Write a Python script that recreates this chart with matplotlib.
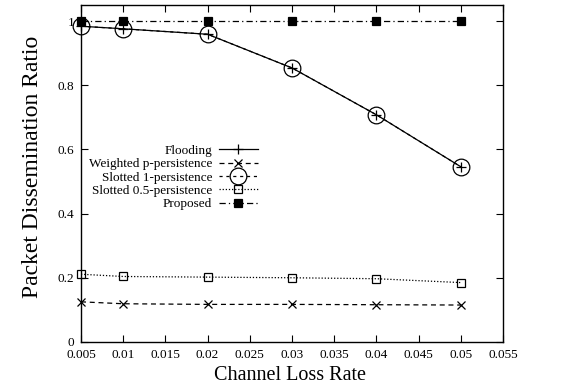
import matplotlib
matplotlib.use('Agg')
import matplotlib.pyplot as plt
from matplotlib.ticker import MultipleLocator

# channel loss rate (x) and packet dissemination ratio (y)
loss_rate = [0.005, 0.01, 0.02, 0.03, 0.04, 0.05]
flooding = [0.984, 0.976, 0.959, 0.854, 0.708, 0.546]
weighted_p = [0.125, 0.119, 0.117, 0.117, 0.116, 0.115]
slotted_1 = [0.984, 0.976, 0.959, 0.854, 0.708, 0.546]
slotted_05 = [0.211, 0.204, 0.202, 0.200, 0.197, 0.185]
proposed = [1.0, 1.0, 1.0, 1.0, 1.0, 1.0]

plt.rcParams['font.family'] = ['Liberation Serif', 'DejaVu Serif']

fig = plt.figure(figsize=(5.61, 3.89), dpi=100)
ax = fig.add_axes([0.1444, 0.121, 0.7522, 0.866])

lw = 0.9
kw = dict(color='black', lw=lw, mew=0.9, clip_on=False)
ax.plot(loss_rate, flooding, ls='-', marker='+', ms=7, label='Flooding', **kw)
ax.plot(loss_rate, weighted_p, ls=(0, (4, 3)), marker='x', ms=5.5,
        label='Weighted p-persistence', **kw)
ax.plot(loss_rate, slotted_1, ls=(0, (2.5, 3)), marker='o', ms=12, mfc='none',
        label='Slotted 1-persistence', **kw)
ax.plot(loss_rate, slotted_05, ls=(0, (1, 1.5)), marker='s', ms=6, mfc='none',
        label='Slotted 0.5-persistence', **kw)
ax.plot(loss_rate, proposed, ls=(0, (5, 2.5, 1, 2.5)), marker='s', ms=6,
        label='Proposed', **kw)

ax.set_xlim(0.005, 0.055)
ax.set_ylim(0, 1.05)
ax.xaxis.set_major_locator(MultipleLocator(0.005))
ax.set_yticks([0, 0.2, 0.4, 0.6, 0.8, 1.0])
ax.set_yticklabels(['0', '0.2', '0.4', '0.6', '0.8', '1'])
ax.set_xticklabels([f'{v:g}' for v in ax.get_xticks()])
ax.tick_params(direction='in', top=True, right=True, labelsize=9.5, length=5, width=0.8, pad=5)
for s in ax.spines.values():
    s.set_linewidth(1.0)

ax.set_xlabel('Channel Loss Rate', fontsize=14.5)
ax.xaxis.set_label_coords(0.495, -0.07)
ax.set_ylabel('Packet Dissemination Ratio', fontsize=17)
ax.yaxis.set_label_coords(-0.09, 0.52)

ax.legend(loc='upper right', bbox_to_anchor=(0.42, 0.585), frameon=False, markerfirst=False,
          fontsize=9.5, handlelength=3.0, labelspacing=0.08, handletextpad=0.5,
          borderpad=0, borderaxespad=0)

fig.savefig('out.png', dpi=100)
